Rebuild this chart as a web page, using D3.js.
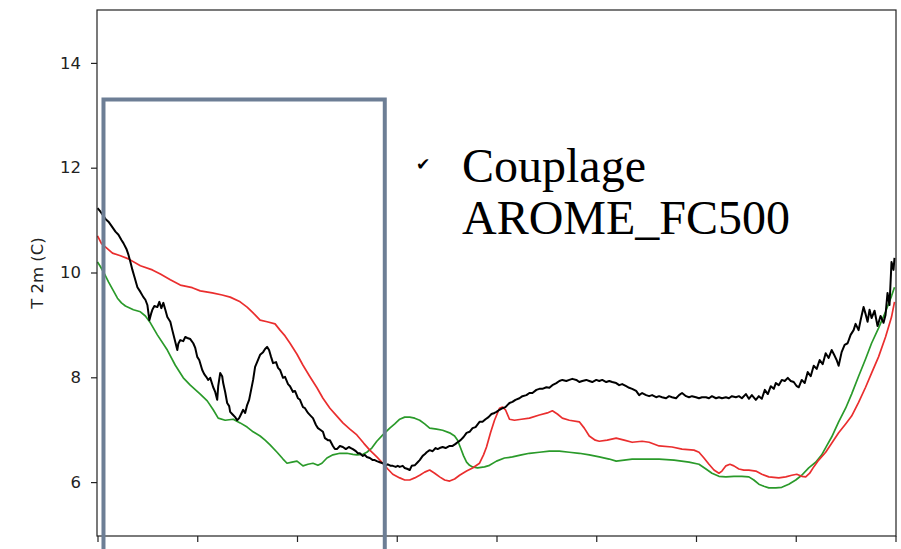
<!DOCTYPE html>
<html>
<head>
<meta charset="utf-8">
<script src="https://cdn.jsdelivr.net/npm/d3@7/dist/d3.min.js"></script>
<style>
html,body{margin:0;padding:0;background:#fff;}
svg{display:block;}
</style>
</head>
<body>
<svg id="chart" width="901" height="549"></svg>
<script>
// ---- data (x = time step, y = 2 m temperature in °C) ----
const xTicks = [0, 100, 200, 300, 400, 500, 600, 700, 800];
const yTicks = [6, 8, 10, 12, 14];
const yLabel = "T 2m (C)";
const noteLines = ["Couplage", "AROME_FC500"];
const noteBullet = "\u2714";

const obsSeries = [[0,11.23],[3,11.16],[6,11.08],[8,11.02],[11,10.97],[14,10.89],[18,10.78],[21,10.72],[24,10.62],[26,10.56],[29,10.45],[31,10.34],[33,10.20],[35,10.05],[37,9.92],[40,9.72],[43,9.63],[46,9.53],[48,9.48],[50,9.38],[52,9.09],[54,9.23],[55,9.29],[57,9.36],[60,9.34],[62,9.44],[64,9.32],[66,9.42],[68,9.29],[70,9.15],[73,9.06],[75,8.90],[77,8.75],[80,8.52],[81,8.64],[83,8.71],[86,8.69],[88,8.77],[90,8.75],[93,8.73],[96,8.65],[98,8.56],[100,8.39],[102,8.33],[105,8.14],[107,8.06],[109,8.01],[111,7.95],[113,7.99],[116,7.81],[118,7.72],[120,7.57],[121,7.83],[123,8.08],[125,8.02],[126,7.89],[128,7.72],[130,7.51],[132,7.45],[133,7.34],[135,7.30],[138,7.24],[140,7.18],[142,7.22],[144,7.30],[146,7.38],[148,7.32],[150,7.47],[152,7.57],[154,7.76],[156,7.95],[158,8.20],[160,8.29],[163,8.43],[166,8.48],[168,8.54],[170,8.58],[172,8.52],[174,8.39],[176,8.27],[179,8.29],[181,8.18],[183,8.14],[186,7.99],[188,8.01],[191,7.87],[193,7.83],[196,7.72],[198,7.74],[201,7.60],[203,7.57],[206,7.43],[208,7.41],[211,7.32],[214,7.26],[216,7.22],[219,7.09],[221,7.03],[224,6.99],[226,6.96],[228,6.84],[231,6.80],[233,6.80],[236,6.69],[238,6.63],[240,6.63],[243,6.69],[246,6.67],[249,6.63],[252,6.67],[254,6.65],[256,6.63],[259,6.59],[261,6.55],[263,6.55],[266,6.50],[268,6.52],[270,6.48],[273,6.46],[276,6.42],[278,6.42],[280,6.40],[283,6.38],[286,6.36],[289,6.32],[291,6.34],[294,6.31],[296,6.31],[299,6.29],[301,6.31],[303,6.29],[306,6.31],[308,6.27],[311,6.25],[313,6.23],[315,6.31],[318,6.32],[321,6.38],[323,6.42],[326,6.50],[328,6.53],[330,6.57],[333,6.61],[336,6.59],[339,6.65],[341,6.63],[343,6.65],[346,6.67],[349,6.65],[353,6.69],[356,6.69],[359,6.73],[361,6.76],[364,6.80],[367,6.86],[370,6.94],[373,6.96],[376,7.03],[379,7.05],[383,7.15],[386,7.15],[389,7.20],[392,7.24],[395,7.30],[398,7.32],[400,7.34],[403,7.38],[406,7.41],[409,7.43],[413,7.51],[416,7.53],[419,7.57],[423,7.60],[426,7.64],[430,7.66],[433,7.70],[436,7.70],[440,7.76],[443,7.78],[446,7.78],[450,7.81],[453,7.80],[456,7.85],[460,7.89],[463,7.93],[466,7.95],[470,7.93],[473,7.95],[476,7.97],[480,7.95],[483,7.91],[486,7.93],[490,7.95],[493,7.93],[496,7.91],[500,7.95],[503,7.93],[506,7.95],[510,7.91],[513,7.93],[516,7.91],[520,7.89],[523,7.85],[526,7.87],[530,7.83],[533,7.80],[536,7.78],[540,7.74],[543,7.66],[546,7.70],[550,7.66],[553,7.64],[556,7.66],[560,7.62],[563,7.64],[566,7.62],[570,7.60],[573,7.64],[576,7.62],[580,7.60],[583,7.66],[586,7.70],[590,7.64],[593,7.62],[596,7.64],[600,7.62],[603,7.60],[606,7.62],[610,7.62],[613,7.60],[616,7.64],[620,7.60],[623,7.62],[626,7.60],[630,7.62],[633,7.60],[636,7.64],[640,7.62],[643,7.64],[646,7.60],[650,7.68],[653,7.59],[656,7.66],[660,7.57],[663,7.64],[666,7.59],[669,7.76],[672,7.68],[675,7.83],[678,7.78],[680,7.89],[683,7.85],[686,7.95],[689,7.93],[692,7.99],[695,7.93],[698,7.91],[701,7.83],[703,7.81],[706,7.95],[709,7.89],[712,8.10],[715,8.02],[718,8.22],[721,8.16],[724,8.33],[727,8.25],[730,8.46],[733,8.37],[736,8.52],[739,8.41],[741,8.33],[743,8.22],[746,8.48],[749,8.62],[752,8.65],[755,8.81],[758,8.90],[760,9.02],[763,8.90],[765,9.09],[768,9.34],[770,9.21],[772,9.06],[774,9.29],[776,9.13],[779,9.27],[782,8.98],[785,9.17],[788,9.04],[790,9.19],[792,9.61],[794,9.38],[796,10.20],[798,10.05],[799,10.28]];

const redSeries = [[0,10.70],[4,10.55],[9,10.47],[15,10.37],[23,10.32],[31,10.26],[43,10.13],[55,10.05],[63,9.97],[73,9.86],[83,9.76],[95,9.71],[103,9.65],[115,9.61],[125,9.57],[133,9.53],[143,9.44],[150,9.34],[156,9.23],[163,9.09],[170,9.06],[178,9.02],[183,8.90],[188,8.79],[193,8.65],[200,8.44],[206,8.23],[213,8.01],[220,7.80],[226,7.60],[233,7.41],[240,7.26],[246,7.13],[253,7.01],[260,6.90],[267,6.74],[273,6.61],[280,6.48],[286,6.36],[291,6.25],[296,6.15],[303,6.08],[308,6.04],[313,6.04],[318,6.08],[323,6.13],[328,6.19],[333,6.23],[338,6.17],[343,6.10],[348,6.04],[353,6.02],[358,6.06],[363,6.13],[370,6.21],[376,6.27],[383,6.36],[387,6.52],[390,6.67],[394,6.94],[398,7.18],[403,7.41],[406,7.43],[409,7.38],[413,7.20],[418,7.18],[425,7.20],[433,7.22],[443,7.28],[451,7.32],[456,7.36],[461,7.30],[466,7.22],[473,7.18],[483,7.15],[488,7.03],[493,6.88],[499,6.80],[503,6.78],[511,6.80],[520,6.84],[528,6.80],[536,6.76],[546,6.78],[553,6.76],[563,6.69],[576,6.67],[586,6.63],[598,6.61],[603,6.57],[608,6.46],[613,6.34],[618,6.23],[623,6.17],[626,6.21],[630,6.31],[634,6.34],[638,6.31],[643,6.25],[648,6.23],[653,6.23],[660,6.21],[666,6.15],[673,6.10],[683,6.08],[690,6.10],[696,6.13],[701,6.15],[706,6.11],[710,6.10],[714,6.17],[718,6.29],[723,6.42],[730,6.57],[736,6.74],[743,6.94],[750,7.11],[756,7.26],[763,7.52],[770,7.81],[776,8.08],[783,8.39],[790,8.77],[796,9.15],[799,9.44]];

const greenSeries = [[0,10.20],[3,10.11],[6,10.01],[11,9.82],[16,9.65],[20,9.51],[24,9.42],[28,9.36],[36,9.29],[43,9.25],[48,9.17],[53,9.04],[60,8.81],[70,8.52],[78,8.23],[86,7.99],[93,7.85],[103,7.68],[110,7.55],[116,7.38],[121,7.22],[128,7.18],[136,7.20],[143,7.13],[150,7.05],[156,6.96],[163,6.88],[168,6.80],[173,6.71],[180,6.57],[186,6.44],[190,6.36],[195,6.38],[200,6.40],[206,6.31],[211,6.34],[216,6.36],[221,6.32],[225,6.36],[230,6.46],[236,6.52],[243,6.55],[250,6.55],[256,6.53],[260,6.52],[266,6.53],[270,6.57],[275,6.65],[280,6.78],[286,6.90],[293,7.03],[298,7.11],[303,7.20],[308,7.24],[313,7.24],[318,7.22],[323,7.18],[328,7.11],[333,7.03],[340,7.01],[346,6.99],[353,6.94],[358,6.88],[361,6.80],[364,6.65],[367,6.50],[370,6.38],[373,6.32],[376,6.29],[381,6.27],[388,6.29],[393,6.32],[400,6.40],[408,6.46],[416,6.48],[425,6.52],[433,6.55],[443,6.57],[453,6.59],[463,6.59],[473,6.57],[483,6.55],[493,6.52],[503,6.48],[513,6.44],[520,6.40],[528,6.42],[536,6.44],[548,6.44],[563,6.44],[578,6.42],[593,6.38],[603,6.34],[610,6.25],[616,6.17],[623,6.11],[630,6.10],[638,6.11],[646,6.11],[653,6.10],[658,6.04],[663,5.96],[668,5.92],[673,5.89],[680,5.89],[686,5.90],[693,5.96],[700,6.04],[706,6.13],[713,6.27],[720,6.38],[726,6.52],[731,6.69],[736,6.86],[743,7.15],[750,7.41],[756,7.68],[763,8.02],[770,8.35],[776,8.65],[783,8.94],[790,9.25],[796,9.55],[799,9.72]];

// highlighted window (time step range, upper temperature)
const boxX = [6, 288];
const boxTop = 13.3;

// ---- drawing ----
const svg = d3.select("#chart");
const pL = 97, pR = 896, pT = 10, pB = 536;

const x = d3.scaleLinear().domain([0, 800]).range([97.5, 895.5]);
const y = d3.scaleLinear().domain([5, 15]).range([534.5, 10.5]);

const line = d3.line().x(d => x(d[0])).y(d => y(d[1]));

const g = svg.append("g");

svg.append("defs").append("clipPath").attr("id", "clip")
  .append("rect").attr("x", pL).attr("y", pT).attr("width", pR - pL).attr("height", pB - pT);

const plot = g.append("g").attr("clip-path", "url(#clip)");

plot.append("path").datum(greenSeries).attr("d", line)
  .attr("fill", "none").attr("stroke", "#2a9a2a").attr("stroke-width", 1.7).attr("stroke-linejoin", "round");
plot.append("path").datum(redSeries).attr("d", line)
  .attr("fill", "none").attr("stroke", "#ea2e2e").attr("stroke-width", 1.7).attr("stroke-linejoin", "round");
plot.append("path").datum(obsSeries).attr("d", line)
  .attr("fill", "none").attr("stroke", "#000").attr("stroke-width", 2).attr("stroke-linejoin", "round");

const yAxis = d3.axisLeft(y).tickValues(yTicks).tickSize(6).tickPadding(10).tickFormat(d3.format("d"));
const yg = g.append("g").attr("transform", `translate(${pL},0)`).call(yAxis);
yg.select(".domain").remove();
yg.selectAll("text").attr("font-family", "DejaVu Sans").attr("font-size", 16.5).attr("fill", "#222");
yg.selectAll("line").attr("stroke", "#222").attr("stroke-width", 1.2);

const xAxis = d3.axisBottom(x).tickValues(xTicks).tickSize(6).tickFormat("");
const xg = g.append("g").attr("transform", `translate(0,${pB})`).call(xAxis);
xg.select(".domain").remove();
xg.selectAll("line").attr("stroke", "#222").attr("stroke-width", 1.2);

g.append("rect").attr("x", pL).attr("y", pT).attr("width", pR - pL).attr("height", pB - pT)
  .attr("fill", "none").attr("stroke", "#222").attr("stroke-width", 1.2);

g.append("text").attr("transform", `translate(43,${(pT + pB) / 2}) rotate(-90)`)
  .attr("text-anchor", "middle").attr("font-family", "DejaVu Sans").attr("font-size", 16.5).attr("fill", "#222")
  .text(yLabel);

const bx0 = x(boxX[0]), bx1 = x(boxX[1]), by0 = y(boxTop);
svg.append("path")
  .attr("d", `M${bx0},560 L${bx0},${by0} L${bx1},${by0} L${bx1},560`)
  .attr("fill", "none").attr("stroke", "#6d7e95").attr("stroke-width", 4);

svg.append("text").attr("x", 416).attr("y", 170).attr("font-family", "DejaVu Sans").attr("font-size", 17)
  .attr("fill", "#000").text(noteBullet);
const note = svg.append("text").attr("font-family", "Liberation Serif").attr("font-size", 48).attr("fill", "#000");
note.append("tspan").attr("x", 462).attr("y", 182).text(noteLines[0]);
note.append("tspan").attr("x", 462).attr("y", 234).text(noteLines[1]);
</script>
</body>
</html>
